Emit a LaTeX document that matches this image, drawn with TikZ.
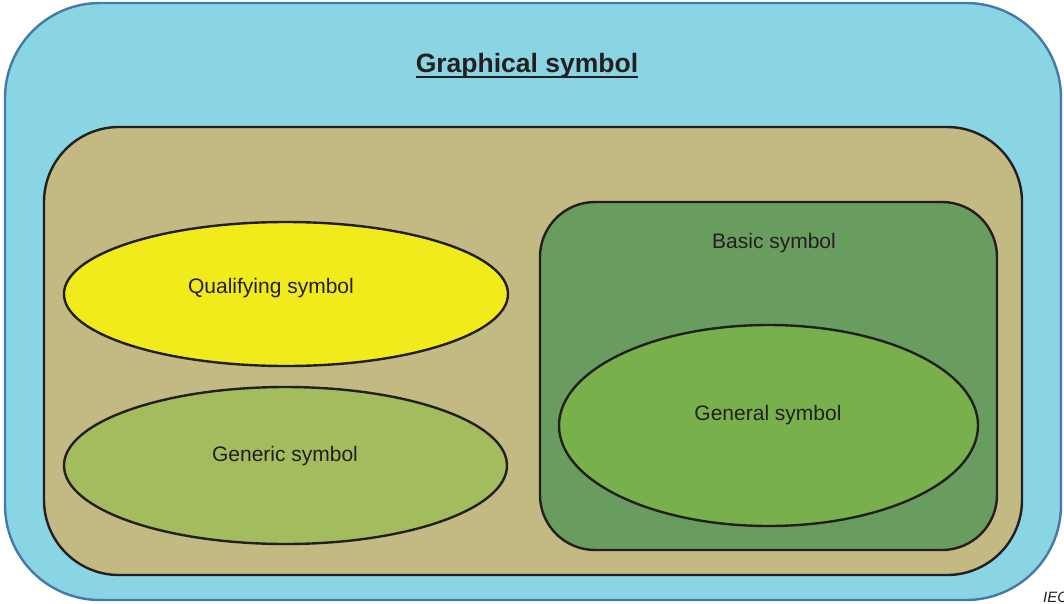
\documentclass[tikz,border=0pt]{standalone}
\usepackage{fontspec}
\setmainfont{Liberation Sans}
\usetikzlibrary{shapes.geometric}
\definecolor{outerfill}{HTML}{89D5E3}
\definecolor{outerline}{HTML}{4479A8}
\definecolor{brownfill}{HTML}{C3B983}
\definecolor{basicfill}{HTML}{699D60}
\definecolor{qualfill}{HTML}{F2EB1C}
\definecolor{genericfill}{HTML}{A3BC5D}
\definecolor{generalfill}{HTML}{78B04B}
\definecolor{txt}{HTML}{231F20}
\tikzset{
  box/.style={draw=txt, line width=2.4pt},
  ell/.style={draw=txt, line width=2.4pt},
  lbl/.style={text=txt, font=\fontsize{21}{25}\selectfont, inner sep=0pt}
}
\begin{document}
\begin{tikzpicture}[x=1pt,y=-1pt]
\useasboundingbox (0,0) rectangle (1064,603);
% outer
\draw[fill=outerfill, draw=outerline, line width=2.4pt, rounded corners=95pt] (5,3) rectangle (1061,600);
\node[text=txt, font=\bfseries\fontsize{26.5}{30}\selectfont, inner sep=0pt, anchor=base] (title) at (527,72) {Graphical symbol};
\draw[txt, line width=2.6pt] ([yshift=-5pt]title.base west) -- ([yshift=-5pt]title.base east);
% brown
\draw[box, fill=brownfill, rounded corners=75pt] (44,127) rectangle (1022,575);
% basic
\draw[box, fill=basicfill, rounded corners=55pt] (540,202) rectangle (997,550);
\node[lbl] (basic) at (774,243) {Basic symbol};
% ellipses
\draw[ell, fill=qualfill] (286,294) ellipse [x radius=222, y radius=72];
\node[lbl] (qual) at (271,288) {Qualifying symbol};
\draw[ell, fill=genericfill] (285.5,465.5) ellipse [x radius=221.5, y radius=78.5];
\node[lbl] (generic) at (285,456) {Generic symbol};
\draw[ell, fill=generalfill] (768.5,425.5) ellipse [x radius=209.5, y radius=100.5];
\node[lbl] (general) at (768,415) {General symbol};
% IEC
\node[text=txt, font=\itshape\fontsize{15}{18}\selectfont, anchor=west, inner sep=0pt] (iec) at (1043,597) {IEC};
\end{tikzpicture}
\end{document}
